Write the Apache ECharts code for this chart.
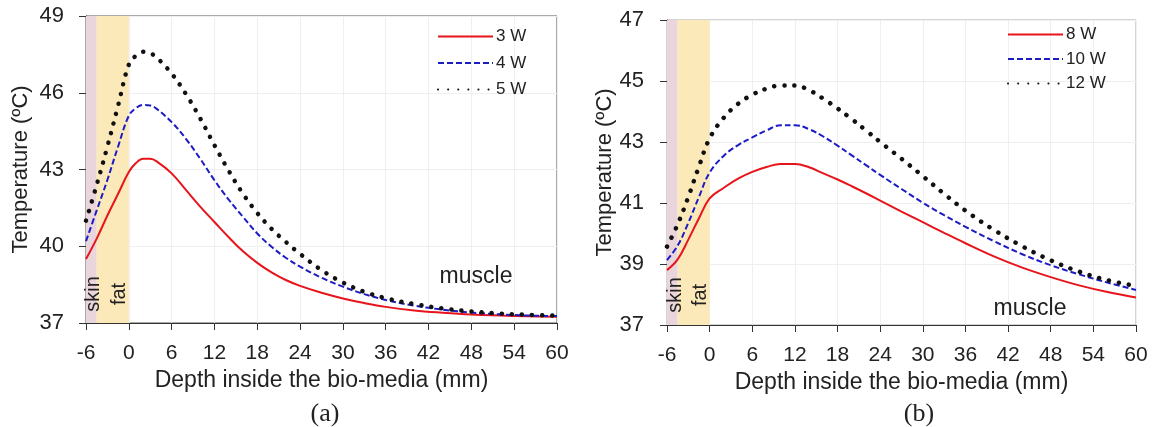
<!DOCTYPE html>
<html>
<head>
<meta charset="utf-8">
<script src="https://cdn.jsdelivr.net/npm/echarts@6/dist/echarts.min.js"></script>
<style>
  html, body { margin: 0; padding: 0; background: #fff; }
  #main { width: 1153px; height: 427px; }
</style>
</head>
<body>
<div id="main"></div>
<script>
// panel (a): 3, 4, 5 W
const depthA = [-6, -4.5, -3, -1.5, 0, 1, 2, 3, 4, 6, 8, 10, 12, 14, 16, 18, 20, 22, 24, 27, 30, 33, 36, 40, 44, 48, 52, 56, 60];
const temp3W = [39.5, 40.3, 41.2, 42.05, 42.9, 43.25, 43.42, 43.42, 43.3, 42.85, 42.2, 41.55, 40.95, 40.35, 39.8, 39.35, 38.98, 38.68, 38.45, 38.18, 37.96, 37.78, 37.63, 37.49, 37.4, 37.33, 37.29, 37.26, 37.24];
const temp4W = [40.2, 41.4, 42.6, 43.9, 45.1, 45.4, 45.52, 45.5, 45.35, 44.85, 44.2, 43.42, 42.58, 41.82, 41.15, 40.5, 39.98, 39.55, 39.2, 38.77, 38.42, 38.13, 37.9, 37.68, 37.52, 37.41, 37.34, 37.29, 37.27];
const temp5W = [41.0, 42.4, 43.9, 45.5, 47.1, 47.45, 47.6, 47.55, 47.35, 46.75, 45.95, 45.0, 43.95, 42.95, 42.05, 41.3, 40.68, 40.17, 39.7, 39.07, 38.58, 38.22, 37.97, 37.74, 37.57, 37.45, 37.37, 37.32, 37.29];

// panel (b): 8, 10, 12 W
const depthB = [-6, -4.5, -3, -1.5, 0, 2, 4, 6, 8, 10, 12, 14, 16, 18, 20, 22, 24, 27, 30, 33, 36, 40, 44, 48, 52, 56, 60];
const temp8W = [38.8, 39.15, 39.8, 40.5, 41.15, 41.5, 41.8, 42.02, 42.18, 42.28, 42.28, 42.17, 41.97, 41.77, 41.55, 41.32, 41.08, 40.72, 40.37, 40.02, 39.68, 39.25, 38.88, 38.57, 38.3, 38.08, 37.9];
const temp10W = [39.13, 39.6, 40.35, 41.2, 42.0, 42.55, 42.9, 43.15, 43.38, 43.55, 43.55, 43.42, 43.18, 42.88, 42.56, 42.24, 41.92, 41.46, 41.01, 40.6, 40.22, 39.75, 39.32, 38.96, 38.66, 38.39, 38.15];
const temp12W = [39.57, 40.3, 41.2, 42.2, 43.12, 43.8, 44.25, 44.55, 44.75, 44.85, 44.85, 44.7, 44.42, 44.1, 43.75, 43.38, 43.0, 42.45, 41.88, 41.3, 40.75, 40.12, 39.58, 39.12, 38.75, 38.47, 38.28];

const namesA = ['3 W', '4 W', '5 W'];
const namesB = ['8 W', '10 W', '12 W'];

// tissue layers (mm)
const skinRange = [-6, -4.5];
const fatRange = [-4.5, 0];

const font = "'Liberation Sans', Arial, sans-serif";
const textCol = '#222';

const zip = (xs, ys) => xs.map((x, i) => [x, ys[i]]);

const layers = {
  silent: true,
  label: { show: false },
  data: [
    [{ xAxis: skinRange[0], itemStyle: { color: '#ead5dc' } }, { xAxis: skinRange[1] }],
    [{ xAxis: fatRange[0], itemStyle: { color: '#fce9b9' } }, { xAxis: fatRange[1] }]
  ]
};

const styles = [
  { color: '#e8141b', width: 2, type: 'solid' },
  { color: '#1c1cc4', width: 2, type: [6, 3] },
  { color: '#111', width: 4.5, type: [0.1, 10], cap: 'round' }
];

function mkSeries(names, xs, ysList, idx) {
  return ysList.map((ys, i) => ({
    name: names[i],
    type: 'line',
    xAxisIndex: idx,
    yAxisIndex: idx,
    data: zip(xs, ys),
    showSymbol: false,
    symbol: 'none',
    smooth: 0.4,
    lineStyle: styles[i],
    itemStyle: { color: styles[i].color },
    z: 3 + i,
    markArea: i === 0 ? layers : undefined
  }));
}

function mkX(idx) {
  return {
    type: 'value', gridIndex: idx, min: -6, max: 60, interval: 6,
    name: 'Depth inside the bio-media (mm)', nameLocation: 'middle', nameGap: 40,
    nameTextStyle: { fontFamily: font, fontSize: 23, color: textCol },
    axisLine: { show: true, onZero: false, lineStyle: { color: '#333' } },
    axisTick: { show: true, length: 7, lineStyle: { color: '#333' } },
    axisLabel: { fontFamily: font, fontSize: 21, color: textCol, margin: 20 },
    splitLine: { show: true, lineStyle: { color: '#efefef' } }
  };
}

function mkY(idx, min, max, interval, gap, margin) {
  return {
    type: 'value', gridIndex: idx, min: min, max: max, interval: interval,
    name: 'Temperature (\u00baC)', nameLocation: 'middle', nameGap: gap,
    nameTextStyle: { fontFamily: font, fontSize: 22, color: textCol },
    axisLine: { show: true, onZero: false, lineStyle: { color: '#333' } },
    axisTick: { show: true, length: 7, lineStyle: { color: '#333' } },
    axisLabel: { fontFamily: font, fontSize: 22, color: textCol, margin: margin },
    splitLine: { show: true, lineStyle: { color: '#efefef' } }
  };
}

function mkLegend(names, left, top, gap) {
  return {
    data: names, orient: 'vertical', left: left, top: top, padding: 0,
    itemWidth: 55, itemHeight: 14, itemGap: gap,
    itemStyle: { opacity: 0 },
    textStyle: { fontFamily: font, fontSize: 17, color: textCol, padding: [0, 0, 0, -2] },
    selectedMode: false
  };
}

const vText = (txt, x, y) => ({
  type: 'text', x: x, y: y, rotation: Math.PI / 2, z: 100,
  style: { text: txt, font: "20px 'Liberation Sans', Arial", fill: textCol, textAlign: 'center', textVerticalAlign: 'middle' }
});
const hText = (txt, x, y, f) => ({
  type: 'text', x: x, y: y, z: 100,
  style: { text: txt, font: f || "23px 'Liberation Sans', Arial", fill: textCol, textAlign: 'center', textVerticalAlign: 'middle' }
});

const chart = echarts.init(document.getElementById('main'), null, { renderer: 'canvas' });

chart.setOption({
  animation: false,
  backgroundColor: '#fff',
  grid: [
    { left: 86, right: 596, top: 16, bottom: 104, show: true, borderColor: '#555', borderWidth: 1 },
    { left: 667, right: 17, top: 20, bottom: 102, show: true, borderColor: '#aaa', borderWidth: 1 }
  ],
  xAxis: [mkX(0), mkX(1)],
  yAxis: [mkY(0, 37, 49, 3, 54, 22), mkY(1, 37, 47, 2, 49, 23)],
  legend: [mkLegend(namesA, 437, 28, 9.5), mkLegend(namesB, 1007, 26, 7.5)],
  series: [].concat(
    mkSeries(namesA, depthA, [temp3W, temp4W, temp5W], 0),
    mkSeries(namesB, depthB, [temp8W, temp10W, temp12W], 1)
  ),
  graphic: [
    vText('skin', 93, 294), vText('fat', 119, 294),
    vText('skin', 675, 295), vText('fat', 700, 295),
    hText('muscle', 476, 277), hText('muscle', 1030, 309),
    hText('(a)', 325, 414, "26px 'Liberation Serif', 'Times New Roman', serif"),
    hText('(b)', 919, 414, "26px 'Liberation Serif', 'Times New Roman', serif")
  ]
});
</script>
</body>
</html>
